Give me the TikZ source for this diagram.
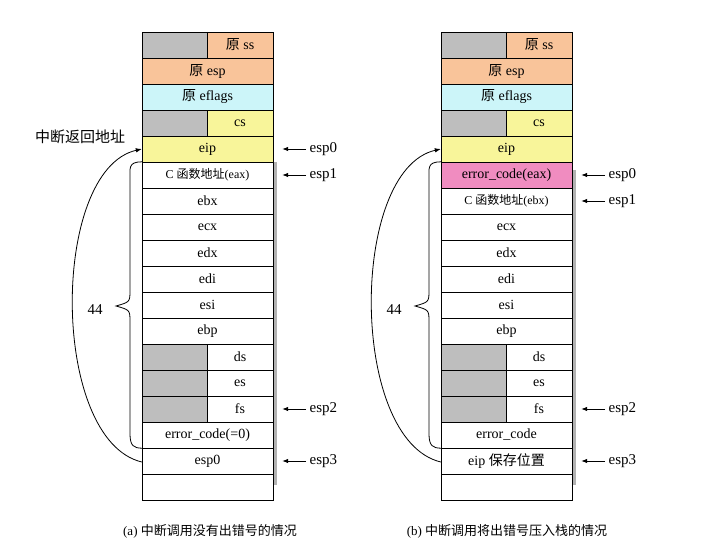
\documentclass[tikz,border=0pt]{standalone}
\usepackage{fontspec}
\setmainfont{Liberation Serif}
\newfontfamily\cjk{Noto Sans CJK SC}
\usetikzlibrary{arrows.meta}

\definecolor{stkorange}{HTML}{F9C49A}
\definecolor{stkcyan}{HTML}{CCF5F9}
\definecolor{stkyellow}{HTML}{F8F59A}
\definecolor{stkgrey}{HTML}{BEBEBE}
\definecolor{stkpink}{HTML}{F08CC0}

\tikzset{
  cell/.style={draw, minimum width=131pt, minimum height=26pt, inner sep=0pt, font=\fontsize{14}{14}\selectfont},
  half/.style={draw, minimum width=66pt, minimum height=26pt, inner sep=0pt, font=\fontsize{14}{14}\selectfont},
  ptr/.style={-{Latex[length=6pt]}, thick},
  ptrlabel/.style={anchor=west, font=\fontsize{15}{15}\selectfont},
}

% row: prefix, left x, index, fill, text, half (1 = grey left part)
\newcommand\stackrow[6]{%
  \pgfmathsetmacro\rowy{-(45+26*#3)}%
  \ifnum#6=1
    \fill[stkgrey] (#2,\rowy+13) rectangle (#2+65,\rowy-13);
    \node[cell] (#1#3) at (#2+65.5,\rowy) {};
    \node[half, fill=#4] (#1#3h) at (#2+98,\rowy) {#5};
    \draw (#2+65,\rowy+13) -- (#2+65,\rowy-13);
  \else
    \node[cell, fill=#4] (#1#3) at (#2+65.5,\rowy) {#5};
  \fi
}

\begin{document}
\begin{tikzpicture}[x=1pt, y=1pt]
    \useasboundingbox (0,0) rectangle (720,-543);
    % shadows
    \fill[gray!60] (273,-162) rectangle (277,-485);
    \fill[gray!60] (572,-170) rectangle (576,-485);
    % stack (a)
    \foreach \i/\c/\t/\h in {0/stkorange/{{\cjk 原} ss}/1, 1/stkorange/{{\cjk 原} esp}/0,
        2/stkcyan/{{\cjk 原} eflags}/0, 3/stkyellow/cs/1, 4/stkyellow/eip/0,
        5/white/{\fontsize{12}{12}\selectfont C {\cjk 函数地址}(eax)}/0, 6/white/ebx/0, 7/white/ecx/0,
        8/white/edx/0, 9/white/edi/0, 10/white/esi/0, 11/white/ebp/0,
        12/white/ds/1, 13/white/es/1, 14/white/fs/1, 15/white/{error\_code(=0)}/0,
        16/white/esp0/0, 17/white/{}/0}
      {\stackrow{a}{142}{\i}{\c}{\t}{\h}}
    % stack (b)
    \foreach \i/\c/\t/\h in {0/stkorange/{{\cjk 原} ss}/1, 1/stkorange/{{\cjk 原} esp}/0,
        2/stkcyan/{{\cjk 原} eflags}/0, 3/stkyellow/cs/1, 4/stkyellow/eip/0,
        5/stkpink/{error\_code(eax)}/0, 6/white/{\fontsize{12}{12}\selectfont C {\cjk 函数地址}(ebx)}/0,
        7/white/ecx/0, 8/white/edx/0, 9/white/edi/0, 10/white/esi/0, 11/white/ebp/0,
        12/white/ds/1, 13/white/es/1, 14/white/fs/1, 15/white/{error\_code}/0,
        16/white/{eip {\cjk 保存位置}}/0, 17/white/{}/0}
      {\stackrow{b}{441}{\i}{\c}{\t}{\h}}

    % stack pointers
    \foreach \p/\r/\n in {a/4/esp0, a/5/esp1, a/14/esp2, a/16/esp3,
                          b/5/esp0, b/6/esp1, b/14/esp2, b/16/esp3} {
      \coordinate (\p\r s) at ([xshift=33pt]\p\r.east);
      \draw[ptr] (\p\r s) -- ([xshift=9pt]\p\r.east);
      \node[ptrlabel] (\p\r l) at (\p\r s) {\n};
    }

    % return address curves
    \node[font=\cjk\fontsize{15}{15}\selectfont] (ret) at (80,-137) {中断返回地址};
    \draw[ptr] ([yshift=-1pt]a16.west) .. controls (50,-440) and (50,-170) .. (a4.west);
    \draw[ptr] ([yshift=-1pt]b16.west) .. controls (349,-440) and (349,-170) .. (b4.west);

    % 44 braces
    \draw[thick] (a5.north west) .. controls (128,-162) and (130,-168) .. (130,-180)
      -- (130,-290) .. controls (130,-302) .. (116,-306) .. controls (130,-310) .. (130,-322)
      -- (130,-434) .. controls (130,-446) and (134,-448) .. (a15.south west);
    \draw[thick] (b5.north west) .. controls (427,-162) and (429,-168) .. (429,-180)
      -- (429,-290) .. controls (429,-302) .. (415,-306) .. controls (429,-310) .. (429,-322)
      -- (429,-434) .. controls (429,-446) and (433,-448) .. (b15.south west);
    \node[font=\fontsize{15}{15}\selectfont] (na) at (95,-310) {44};
    \node[font=\fontsize{15}{15}\selectfont] (nb) at (394,-310) {44};

    % captions
    \node[font=\fontsize{13}{13}\selectfont] (capa) at (210,-531) {(a)\ {\cjk 中断调用没有出错号的情况}};
    \node[font=\fontsize{13}{13}\selectfont] (capb) at (507,-531) {(b)\ {\cjk 中断调用将出错号压入栈的情况}};
\end{tikzpicture}
\end{document}
